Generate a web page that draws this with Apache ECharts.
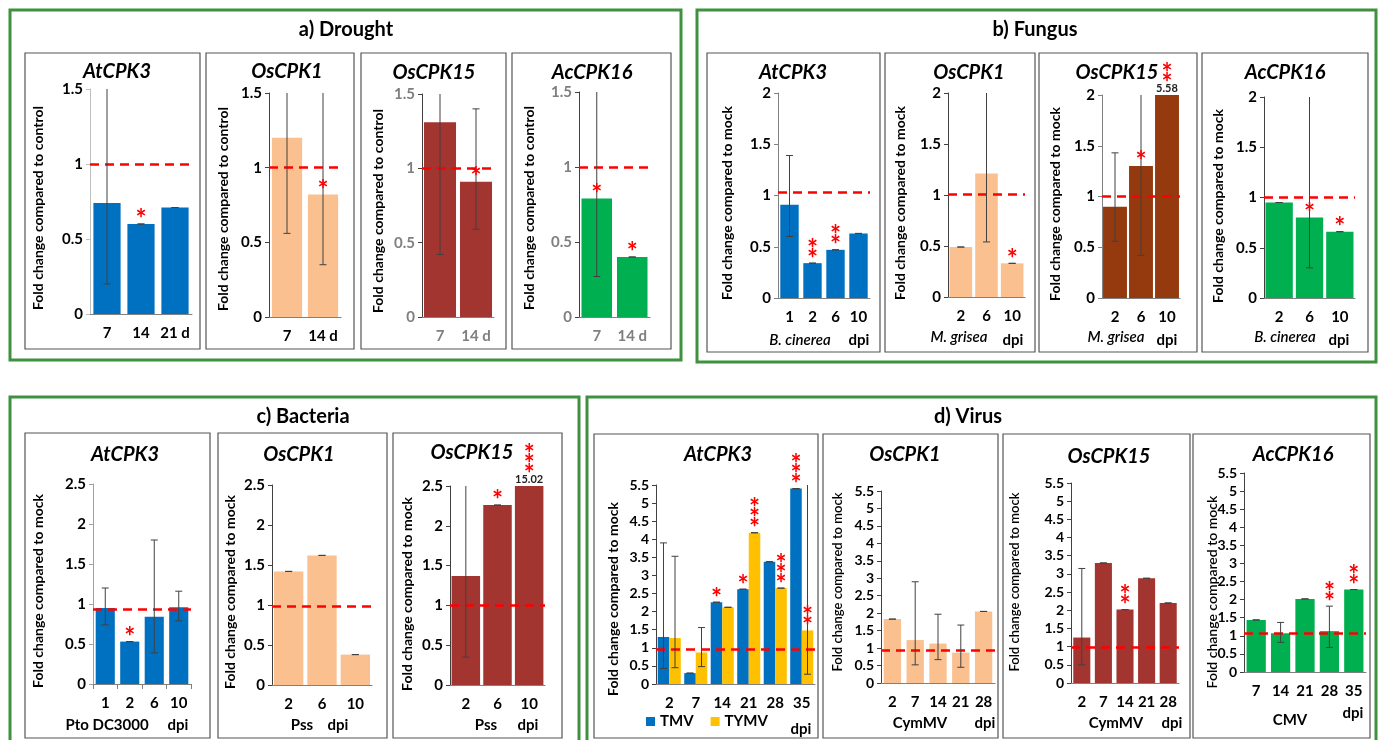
<!DOCTYPE html>
<html><head><meta charset="utf-8">
<script src="https://cdn.jsdelivr.net/npm/echarts@6/dist/echarts.min.js"></script>
<style>html,body{margin:0;padding:0;background:#fff}#c{width:1379px;height:740px}</style>
</head><body><div id="c"></div>
<script>
// ===== DATA =====
// a) Drought
const drAtCats = ['7', '14', '21 d'];
const drAtVals = [0.74, 0.60, 0.71];
const drAtLo = [0.20, 0.60, 0.71];
const drAtHi = [1.50, 0.60, 0.71];
const drAtStars = ['', '*', ''];
const drOs1Cats = ['7', '14 d'];
const drOs1Vals = [1.20, 0.82];
const drOs1Lo = [0.56, 0.35];
const drOs1Hi = [1.50, 1.50];
const drOs1Stars = ['', '*'];
const drOs15Cats = ['7', '14 d'];
const drOs15Vals = [1.31, 0.91];
const drOs15Lo = [0.42, 0.59];
const drOs15Hi = [1.50, 1.40];
const drOs15Stars = ['', '*'];
const drAcCats = ['7', '14 d'];
const drAcVals = [0.79, 0.40];
const drAcLo = [0.27, 0.40];
const drAcHi = [1.50, 0.40];
const drAcStars = ['*', '*'];
const droughtRef = [1.0, 1.0, 1.0, 1.0];
// b) Fungus
const fuAtCats = ['1', '2', '6', '10'];
const fuAtVals = [0.91, 0.34, 0.47, 0.63];
const fuAtLo = [0.60, 0.34, 0.47, 0.63];
const fuAtHi = [1.39, 0.34, 0.47, 0.63];
const fuAtStars = ['', '**', '**', ''];
const fuOs1Cats = ['2', '6', '10'];
const fuOs1Vals = [0.49, 1.21, 0.33];
const fuOs1Lo = [0.49, 0.54, 0.33];
const fuOs1Hi = [0.49, 2.00, 0.33];
const fuOs1Stars = ['', '', '*'];
const fuOs15Cats = ['2', '6', '10'];
const fuOs15Vals = [0.90, 1.30, 5.58];
const fuOs15Lo = [0.56, 0.42, null];
const fuOs15Hi = [1.43, 2.00, null];
const fuOs15Stars = ['', '*', '**'];
const fuAcCats = ['2', '6', '10'];
const fuAcVals = [0.95, 0.80, 0.66];
const fuAcLo = [0.95, 0.30, 0.66];
const fuAcHi = [0.95, 2.00, 0.66];
const fuAcStars = ['', '*', '*'];
const fungusRef = [1.03, 1.01, 1.0, 1.0];
// c) Bacteria
const baAtCats = ['1', '2', '6', '10'];
const baAtVals = [0.95, 0.53, 0.84, 0.96];
const baAtLo = [0.74, 0.53, 0.39, 0.79];
const baAtHi = [1.20, 0.53, 1.80, 1.16];
const baAtStars = ['', '*', '', ''];
const baOs1Cats = ['2', '6', '10'];
const baOs1Vals = [1.42, 1.62, 0.38];
const baOs1Lo = [1.42, 1.62, 0.38];
const baOs1Hi = [1.42, 1.62, 0.38];
const baOs1Stars = ['', '', ''];
const baOs15Cats = ['2', '6', '10'];
const baOs15Vals = [1.37, 2.26, 15.02];
const baOs15Lo = [0.35, 2.26, null];
const baOs15Hi = [2.50, 2.26, null];
const baOs15Stars = ['', '*', '***'];
const bacteriaRef = [0.94, 0.99, 1.0];
// d) Virus
const viAtCats = ['2', '7', '14', '21', '28', '35'];
const viTmvVals = [1.30, 0.30, 2.26, 2.62, 3.38, 5.40];
const viTmvLo = [0.43, 0.30, 2.26, 2.62, 3.38, 5.40];
const viTmvHi = [3.90, 0.30, 2.26, 2.62, 3.38, 5.40];
const viTmvStars = ['', '', '*', '*', '', '***'];
const viTymvVals = [1.27, 0.87, 2.12, 4.18, 2.65, 1.48];
const viTymvLo = [0.45, 0.48, 2.12, 4.18, 2.65, 0.27];
const viTymvHi = [3.53, 1.56, 2.12, 4.18, 2.65, 5.50];
const viTymvStars = ['', '', '', '***', '***', '**'];
const viOs1Cats = ['2', '7', '14', '21', '28'];
const viOs1Vals = [1.83, 1.23, 1.13, 0.87, 2.05];
const viOs1Lo = [1.83, 0.52, 0.67, 0.45, 2.05];
const viOs1Hi = [1.83, 2.90, 1.97, 1.66, 2.05];
const viOs1Stars = ['', '', '', '', ''];
const viOs15Cats = ['2', '7', '14', '21', '28'];
const viOs15Vals = [1.25, 3.30, 2.02, 2.88, 2.20];
const viOs15Lo = [0.50, 3.30, 2.02, 2.88, 2.20];
const viOs15Hi = [3.15, 3.30, 2.02, 2.88, 2.20];
const viOs15Stars = ['', '', '**', '', ''];
const viAcCats = ['7', '14', '21', '28', '35'];
const viAcVals = [1.44, 1.07, 2.02, 1.13, 2.28];
const viAcLo = [1.44, 0.82, 2.02, 0.68, 2.28];
const viAcHi = [1.44, 1.37, 2.02, 1.82, 2.28];
const viAcStars = ['', '', '', '**', '**'];
const viAcStarBase = [null, null, null, 1.82, null];
const virusRef = [0.97, 0.95, 0.97, 1.07];

// ===== STYLE / LAYOUT =====
const FONT = 'Lato, "Open Sans", "DejaVu Sans", sans-serif';
const BLUE = '#0070c0', PEACH = '#fac090', RED = '#a33530', BROWN = '#953a0e', GREEN = '#00b050', YELLOW = '#ffc000';
const GRAY = '#7f7f7f';
const CTRL = 'Fold change compared to control', MOCK = 'Fold change compared to mock';
const S = (vals, lo, hi, stars, color, name, starBase) => ({vals, lo, hi, stars, color, name, starBase});

const panels = [
  {gene:'AtCPK3', cats:drAtCats, ser:[S(drAtVals,drAtLo,drAtHi,drAtStars,BLUE)], ref:droughtRef[0], max:1.5, g:[90,89,192,314], box:[25,53,200,349], t:[117,72], yn:[38,208,CTRL], lc:'#000', ac:'#bfbfbf', gap:'20%', ex:[]},
  {gene:'OsCPK1', cats:drOs1Cats, ser:[S(drOs1Vals,drOs1Lo,drOs1Hi,drOs1Stars,PEACH)], ref:droughtRef[1], max:1.5, g:[269,93,341,317], box:[206,53,354,349], t:[287,72], yn:[223,209,CTRL], lc:'#000', ac:'#404040', gap:'16%', ex:[]},
  {gene:'OsCPK15', cats:drOs15Cats, ser:[S(drOs15Vals,drOs15Lo,drOs15Hi,drOs15Stars,RED)], ref:droughtRef[2], max:1.5, g:[422,94,494,317], box:[361,53,506,349], t:[434,73], yn:[378,211,CTRL], lc:GRAY, ac:'#404040', gap:'11%', ex:[]},
  {gene:'AcCPK16', cats:drAcCats, ser:[S(drAcVals,drAcLo,drAcHi,drAcStars,GREEN)], ref:droughtRef[3], max:1.5, g:[579,92,650,317], box:[512,53,671,349], t:[592,73], yn:[529,208,CTRL], lc:GRAY, ac:'#404040', gap:'14%', ex:[]},

  {gene:'AtCPK3', cats:fuAtCats, ser:[S(fuAtVals,fuAtLo,fuAtHi,fuAtStars,BLUE)], ref:fungusRef[0], max:2, g:[778,93,870,298], box:[707,53,880,352], t:[793,73], yn:[727,203,MOCK], lc:'#000', ac:'#808080', gap:'20%', ex:[['B. cinerea',800,340,true],['dpi',859,340]]},
  {gene:'OsCPK1', cats:fuOs1Cats, ser:[S(fuOs1Vals,fuOs1Lo,fuOs1Hi,fuOs1Stars,PEACH)], ref:fungusRef[1], max:2, g:[948,93,1025,297], box:[885,53,1035,352], t:[969,73], yn:[900,203,MOCK], lc:'#000', ac:'#404040', gap:'12%', ex:[['M. grisea',959,337,true],['dpi',1013,340]]},
  {gene:'OsCPK15', cats:fuOs15Cats, ser:[S(fuOs15Vals,fuOs15Lo,fuOs15Hi,fuOs15Stars,BROWN)], ref:fungusRef[2], max:2, g:[1102,95,1180,298], box:[1039,53,1197,352], t:[1117,73], yn:[1055,204,MOCK], lc:'#000', ac:'#808080', gap:'8%', ex:[['M. grisea',1116,337,true],['dpi',1167,340]]},
  {gene:'AcCPK16', cats:fuAcCats, ser:[S(fuAcVals,fuAcLo,fuAcHi,fuAcStars,GREEN)], ref:fungusRef[3], max:2, g:[1264,97,1355,298], box:[1202,53,1368,352], t:[1285,73], yn:[1218,206,MOCK], lc:'#000', ac:'#404040', gap:'10%', ex:[['B. cinerea',1285,337,true],['dpi',1339,340]]},

  {gene:'AtCPK3', cats:baAtCats, ser:[S(baAtVals,baAtLo,baAtHi,baAtStars,BLUE)], ref:bacteriaRef[0], max:2.5, g:[93,484,191,684], box:[25,433,210,738], t:[125,455], yn:[38,591,MOCK], lc:'#000', ac:'#a0a0a0', gap:'22%', ticks:true, ex:[['Pto DC3000',107,725],['dpi',178,725]]},
  {gene:'OsCPK1', cats:baOs1Cats, ser:[S(baOs1Vals,baOs1Lo,baOs1Hi,baOs1Stars,PEACH)], ref:bacteriaRef[1], max:2.5, g:[272,485,372,685], box:[218,433,387,738], t:[299,455], yn:[230,592,MOCK], lc:'#000', ac:'#404040', gap:'12%', ex:[['Pss',302,725],['dpi',338,725]]},
  {gene:'OsCPK15', cats:baOs15Cats, ser:[S(baOs15Vals,baOs15Lo,baOs15Hi,baOs15Stars,RED)], ref:bacteriaRef[2], max:2.5, g:[450,486,545,685], box:[393,433,562,738], t:[472,453], yn:[407,594,MOCK], lc:'#000', ac:'#404040', gap:'10%', ex:[['Pss',486,725],['dpi',528,725]]},

  {gene:'AtCPK3', cats:viAtCats, ser:[S(viTmvVals,viTmvLo,viTmvHi,viTmvStars,BLUE,'TMV'), S(viTymvVals,viTymvLo,viTymvHi,viTymvStars,YELLOW,'TYMV')], ref:virusRef[0], max:5.5, g:[656,485,815,684], box:[594,434,818,738], t:[718,455], yn:[613,599,MOCK], lc:'#000', ac:'#404040', gap:'13%', fs:14, ex:[['dpi',801,729]]},
  {gene:'OsCPK1', cats:viOs1Cats, ser:[S(viOs1Vals,viOs1Lo,viOs1Hi,viOs1Stars,PEACH)], ref:virusRef[1], max:5.5, g:[881,491,995,683], box:[823,434,998,738], t:[905,455], yn:[838,582,MOCK,'600 13px'], lc:'#000', ac:'#404040', gap:'24%', fs:14, ex:[['CymMV',920,723],['dpi',985,723]]},
  {gene:'OsCPK15', cats:viOs15Cats, ser:[S(viOs15Vals,viOs15Lo,viOs15Hi,viOs15Stars,RED)], ref:virusRef[2], max:5.5, g:[1071,483,1179,683], box:[1003,434,1190,738], t:[1109,457], yn:[1015,582,MOCK,'600 13px'], lc:'#000', ac:'#404040', gap:'21%', fs:14, ex:[['CymMV',1116,723],['dpi',1172,723]]},
  {gene:'AcCPK16', cats:viAcCats, ser:[S(viAcVals,viAcLo,viAcHi,viAcStars,GREEN,undefined,viAcStarBase)], ref:virusRef[3], max:5.5, g:[1244,473,1366,672], box:[1193,434,1370,738], t:[1293,455], yn:[1212,592,MOCK,'600 14px'], lc:'#000', ac:'#404040', gap:'21%', fs:14, ex:[['CMV',1290,720],['dpi',1353,713]]}
];

const sections = [
  {label:'a) Drought', box:[10,10,681,360], t:[346,30]},
  {label:'b) Fungus', box:[697,10,1376,362], t:[1035,30]},
  {label:'c) Bacteria', box:[10,397,579,745], t:[303,417]},
  {label:'d) Virus', box:[587,397,1376,745], t:[968,417]}
];

function txt(text, x, y, font, fill, extra) {
  return Object.assign({type:'text', x:x, y:y, silent:true, z:20,
    style:{text:text, x:0, y:0, font:font, fill:fill, textAlign:'center', textVerticalAlign:'middle', align:'center', verticalAlign:'middle'}}, extra||{});
}

const option = {animation:false, backgroundColor:'#fff', grid:[], xAxis:[], yAxis:[], series:[], graphic:[],
  legend:{data:['TMV','TYMV'], left:646, top:714, itemWidth:9, itemHeight:9, itemGap:17, icon:'rect', padding:0, selectedMode:false,
    textStyle:{fontSize:15, fontWeight:'bold', fontFamily:FONT, color:'#000'}}};

sections.forEach(s => {
  const b = s.box;
  option.graphic.push({type:'rect', silent:true, z:1, shape:{x:b[0], y:b[1], width:b[2]-b[0], height:b[3]-b[1]}, style:{fill:'none', stroke:'#3f9140', lineWidth:3}});
  option.graphic.push(txt(s.label, s.t[0], s.t[1], 'bold 20px ' + FONT, '#000'));
});

panels.forEach((p, k) => {
  const b = p.box;
  option.graphic.push({type:'rect', silent:true, z:1, shape:{x:b[0], y:b[1], width:b[2]-b[0], height:b[3]-b[1]}, style:{fill:'none', stroke:'#555', lineWidth:1.2}});
  option.graphic.push(txt(p.gene, p.t[0], p.t[1], 'italic bold 20px ' + FONT, '#000'));
  const ynFont = p.yn[3] ? (p.yn[3] + ' ' + FONT) : ('bold 14px ' + FONT);
  option.graphic.push(txt(p.yn[2], p.yn[0], p.yn[1], ynFont, '#000', {rotation: Math.PI/2}));
  p.ex.forEach(e => option.graphic.push(txt(e[0], e[1], e[2], (e[3] ? 'italic 600 15px ' : 'bold 15px ') + FONT, '#000')));

  option.grid.push({left:p.g[0], top:p.g[1], width:p.g[2]-p.g[0], height:p.g[3]-p.g[1]});
  option.xAxis.push({type:'category', gridIndex:k, data:p.cats,
    axisLine:{lineStyle:{color:'#808080', width:1}},
    axisTick:{show:!!p.ticks, length:5, lineStyle:{color:'#808080'}},
    axisLabel:{interval:0, color:p.lc, fontSize:15, fontWeight:'bold', fontFamily:FONT, margin:12}});
  option.yAxis.push({type:'value', gridIndex:k, min:0, max:p.max, interval:0.5,
    splitLine:{show:false},
    axisLine:{show:true, lineStyle:{color:p.ac, width:1}},
    axisTick:{show:true, length:4, lineStyle:{color:p.ac}},
    axisLabel:{color:p.lc, fontSize:p.fs || 15, fontWeight:'bold', fontFamily:FONT, margin:7}});

  const n = p.ser.length;
  p.ser.forEach((s, si) => {
    const bar = {type:'bar', name:s.name || ('p' + k), xAxisIndex:k, yAxisIndex:k, data:s.vals, clip:true,
      barCategoryGap:p.gap, barGap:'0%', silent:true, itemStyle:{color:s.color}, z:2};
    if (si === 0) {
      bar.markLine = {silent:true, symbol:['none','none'], label:{show:false}, z:4,
        lineStyle:{color:'#ff0000', type:[9,6], width:2.5}, emphasis:{disabled:true},
        data:[{yAxis:p.ref}]};
    }
    option.series.push(bar);
    option.series.push({type:'custom', xAxisIndex:k, yAxisIndex:k, silent:true, clip:false, z:6,
      data:s.vals.map((v, i) => [i, Math.min(v, p.max)]), encode:{x:0, y:1},
      renderItem:function(params, api) {
        const i = params.dataIndex;
        const band = api.size([1, 0])[0];
        const barW = band * (1 - parseFloat(p.gap) / 100) / n;
        const off = (si - (n - 1) / 2) * barW;
        const v = s.vals[i];
        const top = api.coord([i, Math.min(v, p.max)]);
        const cx = top[0] + off;
        const ch = [];
        const es = {stroke:'#404040', lineWidth:1};
        if (s.lo[i] != null) {
          const yl = api.coord([i, Math.max(s.lo[i], 0)])[1];
          const yh = api.coord([i, Math.min(s.hi[i], p.max)])[1];
          ch.push({type:'line', shape:{x1:cx, y1:yl, x2:cx, y2:yh}, style:es});
          ch.push({type:'line', shape:{x1:cx-3.5, y1:yl, x2:cx+3.5, y2:yl}, style:es});
          if (s.hi[i] < p.max) ch.push({type:'line', shape:{x1:cx-3.5, y1:yh, x2:cx+3.5, y2:yh}, style:es});
        }
        let baseY = top[1];
        if (v > p.max) {
          ch.push({type:'text', x:cx, y:baseY - 1, style:{text:String(v), x:0, y:0, font:'bold 11px ' + FONT, fill:'#222',
            textAlign:'center', textVerticalAlign:'bottom', align:'center', verticalAlign:'bottom'}});
          baseY -= 7;
        }
        if (s.starBase && s.starBase[i] != null) baseY = api.coord([i, s.starBase[i]])[1];
        const st = s.stars[i] || '';
        for (let j = 0; j < st.length; j++) {
          ch.push({type:'text', x:cx, y:baseY - 17 - j * 10, style:{text:'*', x:0, y:0, font:'bold 26px ' + FONT, fill:'#ff0000',
            textAlign:'center', textVerticalAlign:'top', align:'center', verticalAlign:'top'}});
        }
        return {type:'group', children:ch};
      }});
  });
});

const chart = echarts.init(document.getElementById('c'), null, {renderer:'canvas'});
chart.setOption(option);
</script>
</body></html>
